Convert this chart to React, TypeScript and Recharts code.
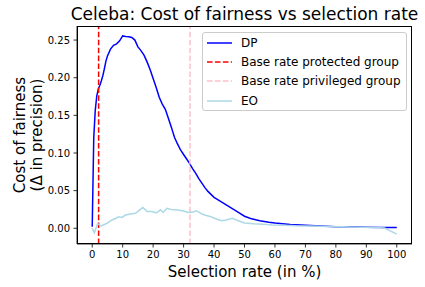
import React from 'react';
import { LineChart, Line, XAxis, YAxis, ReferenceLine } from 'recharts';

// selection rate (%) and cost of fairness for demographic parity
const dpRate = [0, 0.5, 1, 1.5, 2, 2.5, 3, 3.5, 4, 4.5, 5, 6, 7, 8, 9, 10, 11, 12, 13, 14, 15, 16, 17, 18, 19, 20,
  21, 22, 23, 24, 25, 26, 27, 28, 29, 30, 31, 32, 33, 34, 35, 36, 37, 38, 39, 40, 42, 44, 46, 48, 50, 52, 55, 58,
  60, 65, 70, 75, 80, 85, 90, 95, 100];
const dpCost = [0.002, 0.12, 0.157, 0.176, 0.185, 0.19, 0.196, 0.203, 0.212, 0.222, 0.229, 0.238, 0.243, 0.245,
  0.249, 0.2555, 0.2548, 0.2545, 0.2535, 0.25, 0.241, 0.236, 0.23, 0.221, 0.211, 0.199, 0.187, 0.174, 0.165, 0.158,
  0.146, 0.134, 0.121, 0.112, 0.104, 0.098, 0.092, 0.086, 0.079, 0.073, 0.066, 0.06, 0.054, 0.049, 0.045, 0.041,
  0.036, 0.031, 0.026, 0.021, 0.016, 0.013, 0.01, 0.008, 0.007, 0.005, 0.004, 0.003, 0.002, 0.002, 0.0015, 0.001,
  0.001];

// equal opportunity
const eoRate = [0, 0.7, 1.8, 2.9, 4, 5, 6.5, 7.6, 8.7, 9.8, 10.9, 12.5, 14.2, 15.3, 16.6, 18, 19.7, 21, 22.4, 23.3,
  24.5, 26, 28, 30, 31.5, 33, 34.2, 36, 37.5, 39, 41, 42.5, 44, 46, 48, 50, 53, 56, 59, 63, 67, 72, 77, 82, 88, 93,
  96, 100];
const eoCost = [0, -0.006, 0.006, 0.003, 0.005, 0.007, 0.011, 0.013, 0.0153, 0.0144, 0.0176, 0.019, 0.0198, 0.0235,
  0.0275, 0.0224, 0.0222, 0.0203, 0.0245, 0.021, 0.0264, 0.025, 0.0243, 0.023, 0.021, 0.0215, 0.0233, 0.019, 0.017,
  0.0153, 0.012, 0.01, 0.011, 0.0133, 0.01, 0.007, 0.006, 0.0055, 0.0042, 0.004, 0.0033, 0.003, 0.0025, 0.002,
  0.0015, 0.001, 0.0003, -0.0077];

const protectedBaseRate = 2.1;
const privilegedBaseRate = 32.1;

const xTicks = [0, 10, 20, 30, 40, 50, 60, 70, 80, 90, 100];
const yTicks = [0, 0.05, 0.1, 0.15, 0.2, 0.25];

const xDomain = [-5, 105];
const yDomain = [-0.0209, 0.2687];

const legendItems = [
  { name: 'DP', color: 'blue', dash: '' },
  { name: 'Base rate protected group', color: 'red', dash: '5.55 2.4' },
  { name: 'Base rate privileged group', color: 'pink', dash: '5.55 2.4' },
  { name: 'EO', color: 'lightblue', dash: '' },
];

const dpData = dpRate.map((x, i) => ({ x, y: dpCost[i] }));
const eoData = eoRate.map((x, i) => ({ x, y: eoCost[i] }));

const FONT = '"DejaVu Sans", sans-serif';

const XLabel = ({ viewBox }: any) => {
  const cx = viewBox.x + viewBox.width / 2;
  return (
    <text x={cx} y={277} textAnchor="middle" fontSize={15} fontFamily={FONT} fill="#000">
      Selection rate (in %)
    </text>
  );
};

const YLabel = ({ viewBox }: any) => {
  const cy = viewBox.y + viewBox.height / 2;
  return (
    <g fontSize={15} fontFamily={FONT} fill="#000">
      <text x={25} y={cy} textAnchor="middle" transform={`rotate(-90, 25, ${cy})`}>Cost of fairness</text>
      <text x={42} y={cy} textAnchor="middle" transform={`rotate(-90, 42, ${cy})`}>(Δ in precision)</text>
    </g>
  );
};

const LegendBox = () => (
  <div
    style={{
      position: 'absolute',
      left: 202,
      top: 32,
      width: 205,
      height: 79,
      border: '1px solid #cccccc',
      borderRadius: 3,
      background: 'rgba(255,255,255,0.8)',
      fontFamily: FONT,
      fontSize: 12,
      boxSizing: 'border-box',
    }}
  >
    {legendItems.map((item) => (
      <div key={item.name} style={{ display: 'flex', alignItems: 'center', height: 19.3 }}>
        <svg width={25} height={4} style={{ marginLeft: 4, marginRight: 9 }}>
          <line x1={0} y1={2} x2={25} y2={2} stroke={item.color} strokeWidth={1.5}
            strokeDasharray={item.dash || undefined} />
        </svg>
        <span style={{ color: '#000', whiteSpace: 'nowrap' }}>{item.name}</span>
      </div>
    ))}
  </div>
);

const App = () => {
  return (
    <div style={{ position: 'absolute', left: 0, top: 0, width: 425, height: 287, background: '#fff' }}>
      <div
        style={{
          position: 'absolute', left: 0, top: 4, width: 489, textAlign: 'center',
          fontFamily: FONT, fontSize: 17, lineHeight: '20px', color: '#000', whiteSpace: 'nowrap',
        }}
      >
        Celeba: Cost of fairness vs selection rate
      </div>
      <LineChart width={425} height={287} margin={{ top: 26, right: 13, bottom: 13, left: 17 }}>
        <XAxis
          type="number"
          dataKey="x"
          domain={xDomain}
          ticks={xTicks}
          height={30}
          tickSize={3.5}
          tickMargin={3.5}
          axisLine={{ stroke: '#000', strokeWidth: 0.8 }}
          tickLine={{ stroke: '#000', strokeWidth: 0.8 }}
          tick={{ fill: '#000', fontSize: 10, fontFamily: FONT }}
          allowDataOverflow
          label={<XLabel />}
        />
        <YAxis
          type="number"
          dataKey="y"
          domain={yDomain}
          ticks={yTicks}
          width={60}
          tickSize={3.5}
          tickMargin={3.5}
          axisLine={{ stroke: '#000', strokeWidth: 0.8 }}
          tickLine={{ stroke: '#000', strokeWidth: 0.8 }}
          tick={{ fill: '#000', fontSize: 10, fontFamily: FONT }}
          tickFormatter={(v: number) => v.toFixed(2)}
          allowDataOverflow
          label={<YLabel />}
        />
        <Line data={dpData} dataKey="y" type="linear" stroke="blue" strokeWidth={1.5} dot={false}
          isAnimationActive={false} />
        <ReferenceLine x={protectedBaseRate} stroke="red" strokeWidth={1.5} strokeDasharray="5.55 2.4" />
        <ReferenceLine x={privilegedBaseRate} stroke="pink" strokeWidth={1.5} strokeDasharray="5.55 2.4" />
        <Line data={eoData} dataKey="y" type="linear" stroke="lightblue" strokeWidth={1.5} dot={false}
          isAnimationActive={false} />
      </LineChart>
      {/* axes frame (top and right spines) */}
      <div
        style={{
          position: 'absolute', left: 77, top: 26, width: 335, height: 218,
          border: '0.8px solid #000', boxSizing: 'border-box', pointerEvents: 'none',
        }}
      />
      <LegendBox />
    </div>
  );
};

export default App;
